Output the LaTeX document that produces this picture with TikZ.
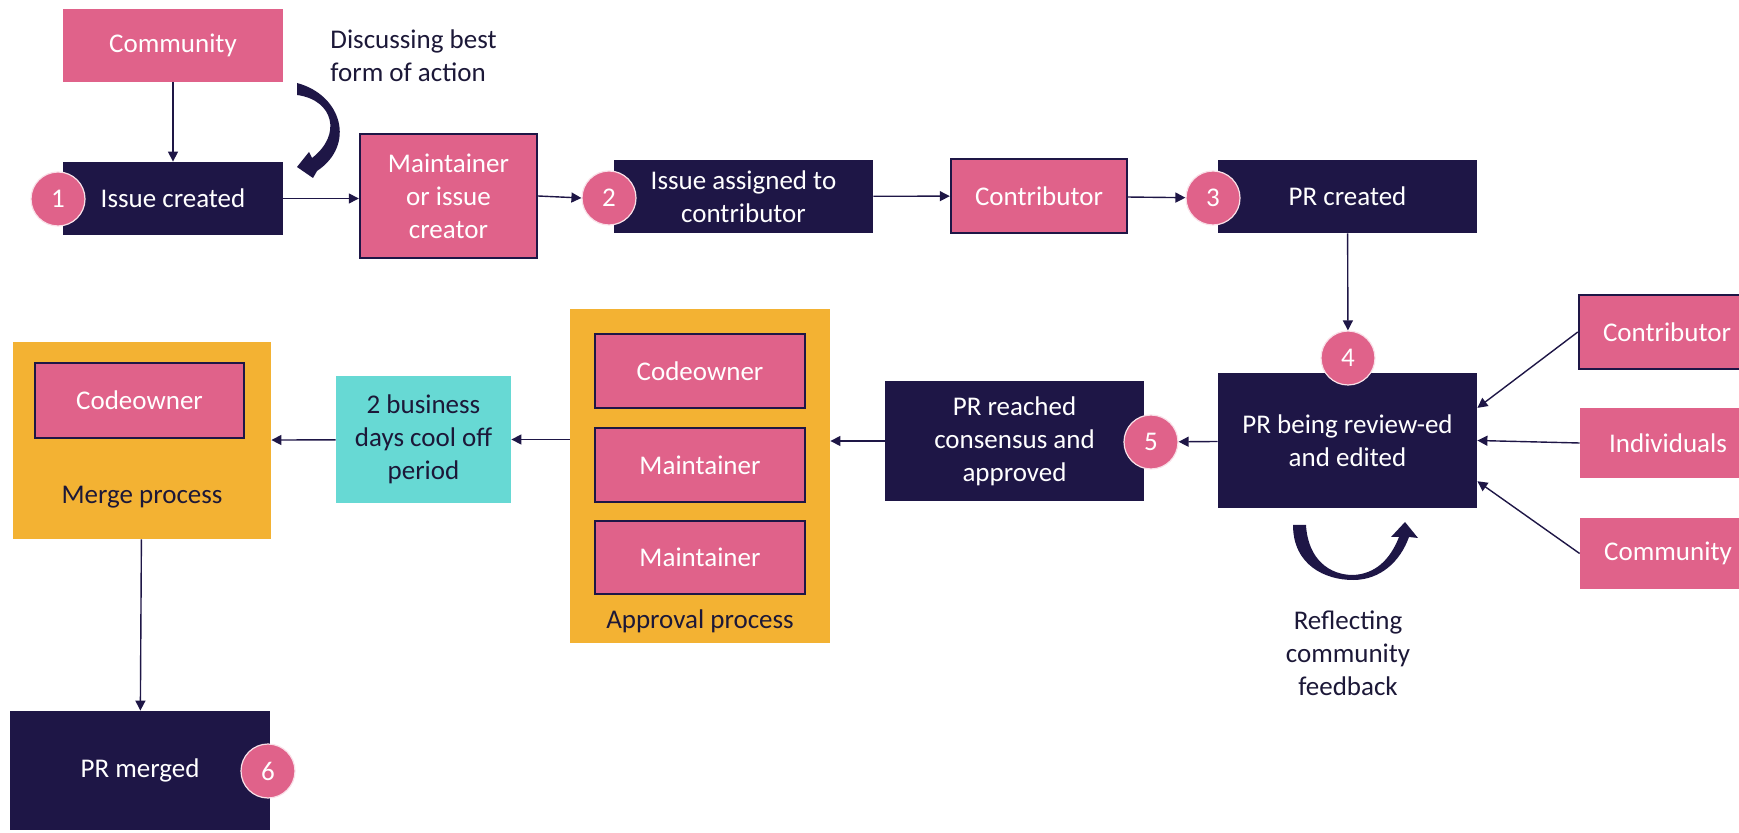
\documentclass[tikz,border=0pt]{standalone}
\usepackage{fontspec}
\setmainfont{Carlito}
\usetikzlibrary{arrows.meta,calc}
\definecolor{cpink}{HTML}{E0628A}
\definecolor{cnavy}{HTML}{1E1646}
\definecolor{corange}{HTML}{F3B233}
\definecolor{cteal}{HTML}{67D9D4}
\definecolor{ctext}{HTML}{1C1838}
\tikzset{
  bx/.style={rectangle, inner sep=2pt, align=center, font=\fontsize{13.5}{16.5}\selectfont},
  navybox/.style={bx, fill=cnavy, text=white},
  pinkbox/.style={bx, fill=cpink, text=white},
  pinkframe/.style={pinkbox, draw=cnavy, line width=1.2pt},
  orangebox/.style={bx, fill=corange},
  tealbox/.style={bx, fill=cteal, text=ctext},
  numc/.style={circle, fill=cpink, draw=white!80!cpink, line width=0.6pt, text=white,
    minimum size=27pt, inner sep=0pt, font=\fontsize{13.5}{16.5}\selectfont},
  conn/.style={draw=cnavy, line width=0.7pt, -{Triangle[length=5pt,width=5pt]}},
  txt/.style={text=ctext, align=center, inner sep=0pt, font=\fontsize{13.5}{16.5}\selectfont},
  bigarrow/.style={fill=cnavy, draw=none}
}
\begin{document}
\begin{tikzpicture}[x=0.5pt,y=-0.5pt]
\useasboundingbox (0,0) rectangle (1739,833);

% top row
\node[pinkbox, minimum width=110pt, minimum height=36.5pt] (comm1) at (173,45.5) {Community};
\node[navybox, minimum width=110pt, minimum height=36.5pt] (issue1) at (173,198.5) {Issue created};
\node[pinkframe, minimum width=88.5pt, minimum height=62pt] (maint) at (448.5,196) {Maintainer\\or issue\\creator};
\node[navybox, minimum width=129.5pt, minimum height=36.5pt] (assign) at (743.5,196.5) {Issue assigned to\\contributor};
\node[pinkframe, minimum width=88pt, minimum height=37pt] (contrib) at (1039,196) {Contributor};
\node[navybox, minimum width=129.5pt, minimum height=36.5pt] (prc) at (1347.5,196.5) {PR created};

% review
\node[navybox, minimum width=129.5pt, minimum height=67.5pt] (review) at (1347.5,440.5) {PR being review-ed\\and edited};
\node[pinkframe, minimum width=88pt, minimum height=37pt] (rcontrib) at (1667,332) {Contributor};
\node[pinkbox, minimum width=88pt, minimum height=35pt] (indiv) at (1668,443) {Individuals};
\node[pinkbox, minimum width=88pt, minimum height=35.5pt] (rcomm) at (1668,553.5) {Community};

\node[navybox, minimum width=129.5pt, minimum height=60pt] (reached) at (1014.5,441) {PR reached\\consensus and\\approved};

% approval
\node[orangebox, minimum width=130pt, minimum height=167pt] (approval) at (700,476) {};
\node[pinkframe, minimum width=105pt, minimum height=37pt] (acode) at (700,371) {Codeowner};
\node[pinkframe, minimum width=105pt, minimum height=37pt] (amaint1) at (700,465) {Maintainer};
\node[pinkframe, minimum width=105pt, minimum height=36.5pt] (amaint2) at (700,557.5) {Maintainer};
\node[txt] (applabel) at (700,621) {Approval process};

\node[tealbox, minimum width=87.5pt, minimum height=63.5pt] (cool) at (423.5,439.5) {2 business\\days cool off\\period};

% merge
\node[orangebox, minimum width=129pt, minimum height=98.5pt] (merge) at (142,440.5) {};
\node[pinkframe, minimum width=104.5pt, minimum height=37.5pt] (mcode) at (139.5,400.5) {Codeowner};
\node[txt] (mergelabel) at (142,497) {Merge process};

\node[navybox, minimum width=130pt, minimum height=59.5pt] (merged) at (140,770.5) {PR merged};

% number circles
\node[numc] (c1) at (58,199) {1};
\node[numc] (c2) at (609,198) {2};
\node[numc] (c3) at (1213,198) {3};
\node[numc] (c4) at (1348,358) {4};
\node[numc] (c5) at (1151,442) {5};
\node[numc] (c6) at (268,771) {6};

% labels
\node[txt, align=left, anchor=west] (disc) at (330,56) {Discussing best\\form of action};
\node[txt] (refl) at (1348,653) {Reflecting\\community\\feedback};

% connectors
\draw[conn] (comm1) -- (issue1);
\draw[conn] (issue1.east) -- (issue1.east -| maint.west);
\draw[conn] (maint.east) -- (c2.west);
\draw[conn] (assign) -- (contrib);
\draw[conn] (contrib) -- (c3);
\draw[conn] (prc) -- (c4);
\draw[conn] (review) -- (c5);
\draw[conn] (reached.west) -- (reached.west -| approval.east);
\draw[conn] (approval.west |- cool.east) -- (cool.east);
\draw[conn] (cool) -- (merge);
\draw[conn] (merge) -- (merged);
\draw[conn] (rcontrib.west) -- ($(review.north east)!0.26!(review.south east)$);
\draw[conn] (indiv.west) -- (review.east);
\draw[conn] (rcomm.west) -- ($(review.north east)!0.80!(review.south east)$);

% curved block arrows
\path[bigarrow] (297,83) .. controls (342,95) and (356,145) .. (317,171)
  -- (313,178) -- (297,167) -- (309,152) -- (312,158)
  .. controls (342,135) and (334,100) .. (297,95) -- cycle;
\path[bigarrow] (1293,525) .. controls (1293,565) and (1325,580) .. (1353,580)
  .. controls (1380,580) and (1400,562) .. (1409,537)
  -- (1418,538) -- (1405,522) -- (1391,537) -- (1399,537)
  .. controls (1390,560) and (1375,574) .. (1353,575)
  .. controls (1330,575) and (1308,560) .. (1306,525) -- cycle;
\end{tikzpicture}
\end{document}
